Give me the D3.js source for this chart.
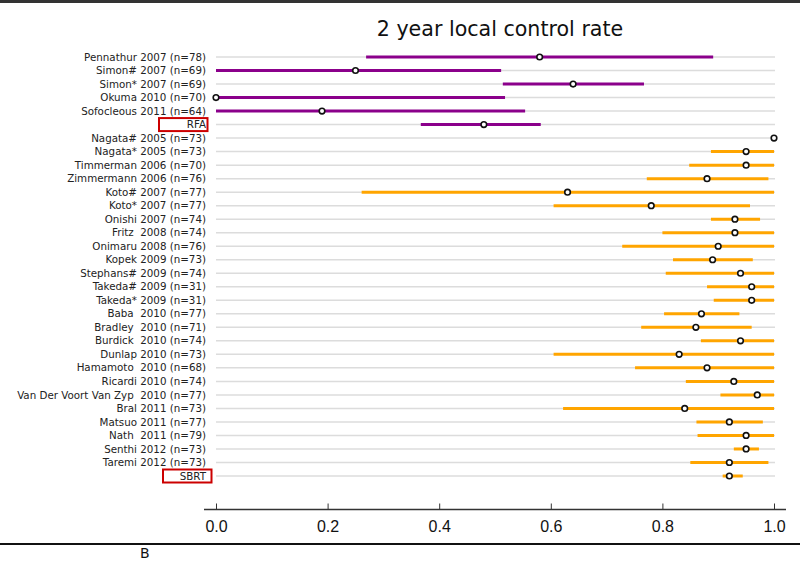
<!DOCTYPE html>
<html>
<head>
<meta charset="utf-8">
<script src="https://cdn.jsdelivr.net/npm/d3@7"></script>
<style>
  body { margin: 0; background: #fff; }
  svg { display: block; font-family: "DejaVu Sans", sans-serif; }
  text.label { white-space: pre; }
</style>
</head>
<body>
<div id="chart"></div>
<script>
/* DATA */
const studies = [
  "Pennathur 2007 (n=78)", "Simon# 2007 (n=69)", "Simon* 2007 (n=69)", "Okuma 2010 (n=70)",
  "Sofocleous 2011 (n=64)", "RFA",
  "Nagata# 2005 (n=73)", "Nagata* 2005 (n=73)", "Timmerman 2006 (n=70)", "Zimmermann 2006 (n=76)",
  "Koto# 2007 (n=77)", "Koto* 2007 (n=77)", "Onishi 2007 (n=74)", "Fritz  2008 (n=74)",
  "Onimaru 2008 (n=76)", "Kopek 2009 (n=73)", "Stephans# 2009 (n=74)", "Takeda# 2009 (n=31)",
  "Takeda* 2009 (n=31)", "Baba  2010 (n=77)", "Bradley  2010 (n=71)", "Burdick  2010 (n=74)",
  "Dunlap 2010 (n=73)", "Hamamoto  2010 (n=68)", "Ricardi 2010 (n=74)",
  "Van Der Voort Van Zyp  2010 (n=77)", "Bral 2011 (n=73)", "Matsuo 2011 (n=77)",
  "Nath  2011 (n=79)", "Senthi 2012 (n=73)", "Taremi 2012 (n=73)", "SBRT"
];
const groups = [
  "RFA", "RFA", "RFA", "RFA", "RFA", "RFA",
  "SBRT", "SBRT", "SBRT", "SBRT", "SBRT", "SBRT", "SBRT", "SBRT", "SBRT", "SBRT",
  "SBRT", "SBRT", "SBRT", "SBRT", "SBRT", "SBRT", "SBRT", "SBRT", "SBRT", "SBRT",
  "SBRT", "SBRT", "SBRT", "SBRT", "SBRT", "SBRT"
];
const estimate = [
  0.58, 0.25, 0.64, 0.0, 0.19, 0.48,
  1.0, 0.95, 0.95, 0.88, 0.63, 0.78, 0.93, 0.93, 0.90, 0.89,
  0.94, 0.96, 0.96, 0.87, 0.86, 0.94, 0.83, 0.88, 0.928, 0.97,
  0.84, 0.92, 0.95, 0.95, 0.92, 0.92
];
const lower = [
  0.269, 0.0, 0.514, 0.0, 0.0, 0.367,
  1.0, 0.887, 0.848, 0.772, 0.261, 0.605, 0.887, 0.80, 0.728, 0.819,
  0.806, 0.88, 0.892, 0.803, 0.762, 0.869, 0.605, 0.751, 0.842, 0.904,
  0.622, 0.861, 0.863, 0.928, 0.85, 0.908
];
const upper = [
  0.891, 0.511, 0.767, 0.518, 0.554, 0.582,
  1.0, 1.0, 1.0, 0.99, 1.0, 0.957, 0.975, 1.0, 1.0, 0.962,
  1.0, 1.0, 1.0, 0.938, 0.96, 1.0, 1.0, 1.0, 1.0, 1.0,
  1.0, 0.98, 1.0, 0.973, 0.99, 0.944
];
const xTicks = [0.0, 0.2, 0.4, 0.6, 0.8, 1.0];
const boxed = ["RFA", "SBRT"];
const colors = { RFA: "#8b008b", SBRT: "#ffa500" };

const width = 800, height = 562;

const rows = studies.map((s, i) => ({
  study: s, group: groups[i], est: estimate[i], lo: lower[i], hi: upper[i]
}));

const svg = d3.select("#chart").append("svg")
  .attr("width", width)
  .attr("height", height);

const x = d3.scaleLinear().domain([0, 1]).range([216, 774]);
const y = d3.scalePoint().domain(studies).range([57, 476]);

// frame lines of the figure panel
svg.append("line")
  .attr("x1", 0).attr("x2", width).attr("y1", 1.5).attr("y2", 1.5)
  .attr("stroke", "#333").attr("stroke-width", 3);
svg.append("line")
  .attr("x1", 0).attr("x2", width).attr("y1", 544).attr("y2", 544)
  .attr("stroke", "#111").attr("stroke-width", 2);
svg.append("text")
  .attr("x", 140).attr("y", 558)
  .attr("font-size", 14).attr("fill", "#111")
  .text("B");

// title
svg.append("text")
  .attr("x", 500).attr("y", 36)
  .attr("text-anchor", "middle")
  .attr("font-size", 20.6)
  .attr("fill", "#111")
  .text("2 year local control rate");

// grey guide rows
svg.selectAll("line.guide")
  .data(rows)
  .join("line")
  .attr("class", "guide")
  .attr("x1", x(0)).attr("x2", x(1) + 1)
  .attr("y1", d => y(d.study)).attr("y2", d => y(d.study))
  .attr("stroke", "#dcdcdc").attr("stroke-width", 1.5);

// study labels
svg.selectAll("text.label")
  .data(rows)
  .join("text")
  .attr("class", "label")
  .attr("x", 206)
  .attr("y", d => y(d.study))
  .attr("dy", "0.35em")
  .attr("text-anchor", "end")
  .attr("font-size", 10.3)
  .attr("fill", "#222")
  .text(d => d.study);

// red boxes round the group labels
svg.selectAll("rect.box")
  .data(rows.filter(d => boxed.includes(d.study)))
  .join("rect")
  .attr("class", "box")
  .attr("x", d => d.study === "RFA" ? 159 : 163)
  .attr("y", d => y(d.study) - 6.5)
  .attr("width", 48.5)
  .attr("height", 13)
  .attr("fill", "none")
  .attr("stroke", "#cc0000")
  .attr("stroke-width", 2);

// intervals
svg.selectAll("line.ci")
  .data(rows)
  .join("line")
  .attr("class", "ci")
  .attr("x1", d => x(d.lo)).attr("x2", d => x(d.hi))
  .attr("y1", d => y(d.study)).attr("y2", d => y(d.study))
  .attr("stroke", d => colors[d.group])
  .attr("stroke-width", 3);

// point estimates
svg.selectAll("circle.est")
  .data(rows)
  .join("circle")
  .attr("class", "est")
  .attr("cx", d => x(d.est))
  .attr("cy", d => y(d.study))
  .attr("r", 2.8)
  .attr("fill", "#fff")
  .attr("stroke", "#111")
  .attr("stroke-width", 1.6);

// x axis
const axis = svg.append("g")
  .attr("transform", "translate(0,509.5)")
  .call(d3.axisTop(x).tickValues(xTicks).tickSize(6).tickFormat(d3.format(".1f")));
axis.select(".domain").remove();
axis.selectAll(".tick text").remove();
axis.selectAll(".tick line").attr("stroke", "#333");
axis.append("line")
  .attr("x1", 204).attr("x2", 786)
  .attr("stroke", "#333").attr("stroke-width", 1.5);
axis.selectAll(".tick")
  .append("text")
  .attr("y", 22)
  .attr("text-anchor", "middle")
  .attr("font-size", 16)
  .attr("fill", "#111")
  .text(d => d3.format(".1f")(d));
</script>
</body>
</html>
